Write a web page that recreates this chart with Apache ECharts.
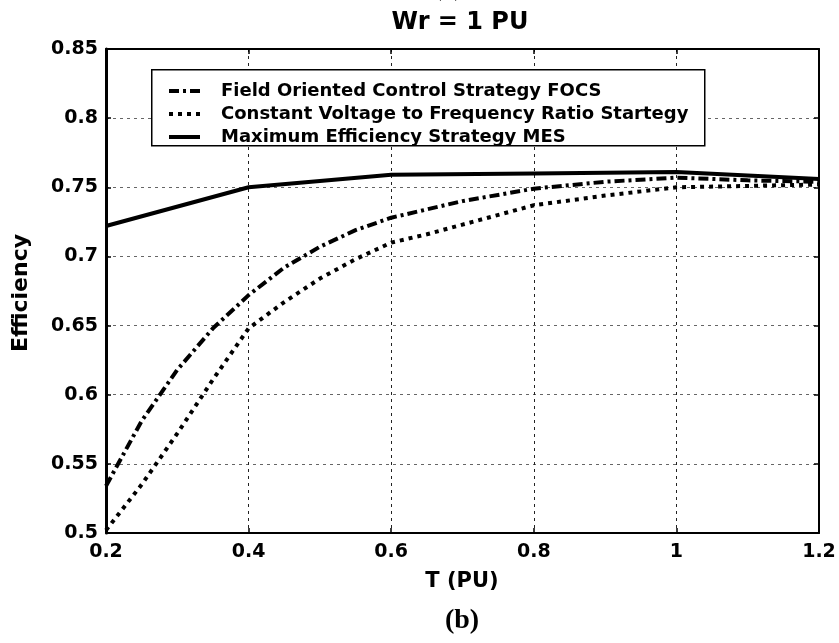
<!DOCTYPE html>
<html>
<head>
<meta charset="utf-8">
<script src="https://cdn.jsdelivr.net/npm/echarts@6/dist/echarts.min.js"></script>
<style>
  html, body { margin: 0; padding: 0; background: #ffffff; }
  #chart { width: 839px; height: 643px; }
</style>
</head>
<body>
<div id="chart"></div>
<script>
// Load torque (PU) sample points
const torque = [0.2, 0.25, 0.3, 0.35, 0.4, 0.45, 0.5, 0.55, 0.6, 0.65, 0.7, 0.8, 0.9, 1.0, 1.1, 1.2];
const mesTorque = [0.2, 0.4, 0.6, 0.8, 1.0, 1.2];

// Efficiency of each control strategy
const focsEff = [0.534, 0.581, 0.618, 0.648, 0.672, 0.692, 0.707, 0.719, 0.728, 0.734, 0.740, 0.749, 0.754, 0.757, 0.755, 0.754];
const cvfrEff = [0.502, 0.535, 0.572, 0.611, 0.648, 0.667, 0.684, 0.698, 0.710, 0.716, 0.723, 0.737, 0.744, 0.750, 0.751, 0.752];
const mesEff  = [0.722, 0.750, 0.759, 0.760, 0.761, 0.756];

const seriesNames = [
  'Field Oriented Control Strategy FOCS',
  'Constant Voltage to Frequency Ratio Startegy',
  'Maximum Efficiency Strategy MES'
];

// Axis ticks
const xTicks = [0.2, 0.4, 0.6, 0.8, 1.0, 1.2];
const yTicks = [0.5, 0.55, 0.6, 0.65, 0.7, 0.75, 0.8, 0.85];

const titleText = 'Wr = 1 PU';
const xName = 'T (PU)';
const yName = 'Efficiency';
const panelTag = '(b)';
const prevPanelTag = '(a)';

const zip = (xs, ys) => xs.map((x, i) => [x, ys[i]]);
const fmt = v => String(parseFloat(v.toFixed(2)));

const FONT = 'DejaVu Sans';
const tickLabel = { color: '#000', fontFamily: FONT, fontWeight: 'bold', fontSize: 19 };

const chart = echarts.init(document.getElementById('chart'), null, { renderer: 'canvas' });

const gridLeft = 106, gridRight = 20, gridTop = 49, gridBottom = 110;

const xBase = {
  type: 'value', min: xTicks[0], max: xTicks[xTicks.length - 1], interval: 0.2,
  axisLine: { onZero: false, lineStyle: { color: '#000', width: 2 } },
  axisTick: { inside: true, length: 5, lineStyle: { color: '#000', width: 1.5 } }
};
const yBase = {
  type: 'value', min: yTicks[0], max: yTicks[yTicks.length - 1], interval: 0.05,
  axisLine: { onZero: false, lineStyle: { color: '#000', width: 2 } },
  axisTick: { inside: true, length: 5, lineStyle: { color: '#000', width: 1.5 } }
};

chart.setOption({
  backgroundColor: '#ffffff',
  animation: false,
  grid: { left: gridLeft, right: gridRight, top: gridTop, bottom: gridBottom, containLabel: false },
  xAxis: [
    Object.assign({}, xBase, {
      position: 'bottom',
      axisLabel: Object.assign({ margin: 10, formatter: fmt }, tickLabel),
      splitLine: { show: true, lineStyle: { color: '#222', width: 1, type: [3, 4] } }
    }),
    Object.assign({}, xBase, {
      position: 'top',
      axisLabel: { show: false },
      splitLine: { show: false }
    })
  ],
  yAxis: [
    Object.assign({}, yBase, {
      position: 'left',
      axisLine: { onZero: false, lineStyle: { color: '#000', width: 3 } },
      axisLabel: Object.assign({ margin: 8, formatter: fmt }, tickLabel),
      splitLine: { show: true, lineStyle: { color: '#666', width: 1, type: [3, 4] } }
    }),
    Object.assign({}, yBase, {
      position: 'right',
      axisLabel: { show: false },
      splitLine: { show: false }
    })
  ],
  legend: {
    orient: 'vertical',
    left: 162, top: 77,
    itemWidth: 31, itemHeight: 14, itemGap: 5,
    data: seriesNames,
    // line-only keys: hide the marker the line series would add
    itemStyle: { color: 'rgba(0,0,0,0)', borderWidth: 0, opacity: 0 },
    lineStyle: { width: 4, cap: 'butt' },
    textStyle: { color: '#000', fontFamily: FONT, fontWeight: 'bold', fontSize: 18, lineHeight: 16, padding: [0, 0, 0, 16] },
    z: 6
  },
  graphic: [
    { type: 'rect', left: 151, top: 69, z: 5,
      shape: { width: 553, height: 76 },
      style: { fill: '#fff', stroke: '#000', lineWidth: 1.5 } },
    { type: 'text', x: 448, y: -12, z: 6,
      style: { text: prevPanelTag, fill: '#000', font: '28px "Liberation Serif"', textAlign: 'center', textVerticalAlign: 'middle' } },
    { type: 'text', x: 460, y: 23, z: 6,
      style: { text: titleText, fill: '#000', font: 'bold 24px "DejaVu Sans"', textAlign: 'center', textVerticalAlign: 'middle' } },
    { type: 'text', x: 462, y: 582, z: 6,
      style: { text: xName, fill: '#000', font: 'bold 21px "DejaVu Sans"', textAlign: 'center', textVerticalAlign: 'middle' } },
    { type: 'text', x: 21, y: 293, rotation: Math.PI / 2, z: 6,
      style: { text: yName, fill: '#000', font: 'bold 22px "DejaVu Sans"', textAlign: 'center', textVerticalAlign: 'middle' } },
    { type: 'text', x: 462, y: 621, z: 6,
      style: { text: panelTag, fill: '#000', font: 'bold 28px "Liberation Serif"', textAlign: 'center', textVerticalAlign: 'middle' } }
  ],
  series: [
    {
      name: seriesNames[0], type: 'line', data: zip(torque, focsEff),
      symbol: 'none', smooth: false, z: 3,
      lineStyle: { color: '#000', width: 4, type: [10, 4, 3, 4], cap: 'butt' },
      itemStyle: { color: '#000' }
    },
    {
      name: seriesNames[1], type: 'line', data: zip(torque, cvfrEff),
      symbol: 'none', smooth: false, z: 3,
      lineStyle: { color: '#000', width: 4, type: [4, 5], cap: 'butt' },
      itemStyle: { color: '#000' }
    },
    {
      name: seriesNames[2], type: 'line', data: zip(mesTorque, mesEff),
      symbol: 'none', smooth: false, z: 3,
      lineStyle: { color: '#000', width: 4, type: 'solid' },
      itemStyle: { color: '#000' }
    }
  ]
});
</script>
</body>
</html>
